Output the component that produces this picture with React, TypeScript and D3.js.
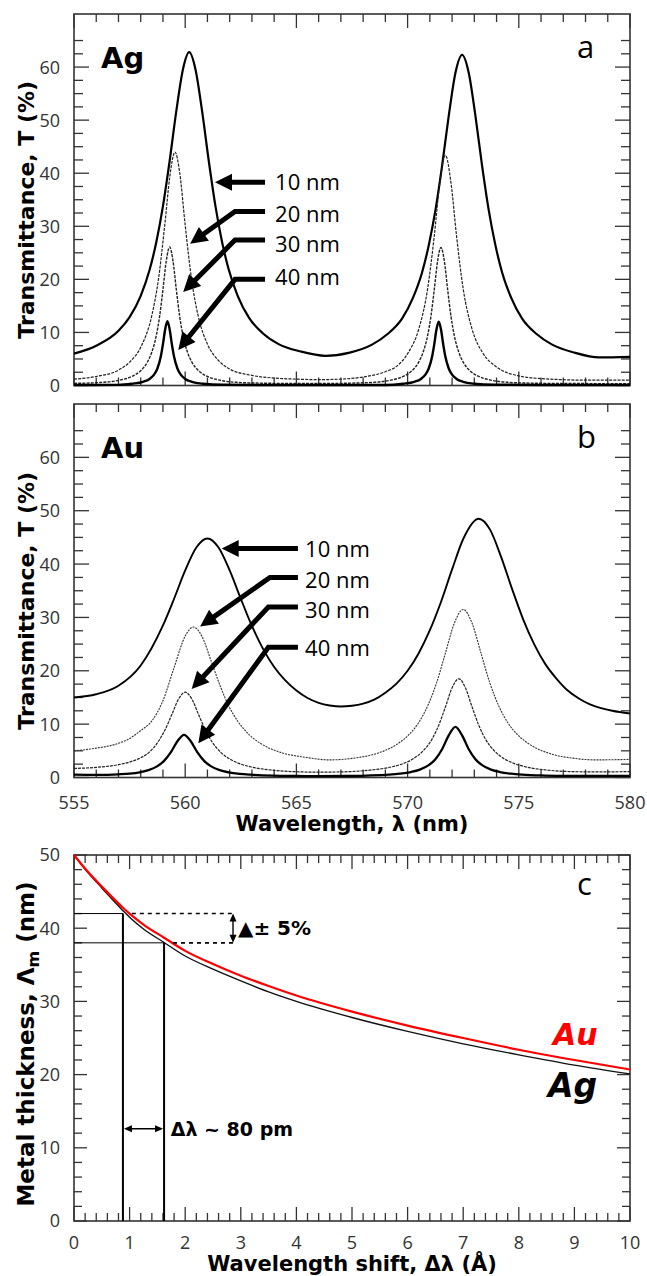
import React from "react";
import * as d3 from "d3";

type P = [number, number];

// ---------- axis ticks / labels ----------
const wavelengthTicks = [555, 560, 565, 570, 575, 580];
const transmittanceTicks = [0, 10, 20, 30, 40, 50, 60];
const shiftTicks = [0, 1, 2, 3, 4, 5, 6, 7, 8, 9, 10];
const thicknessTicks = [0, 10, 20, 30, 40, 50];
const thicknessLabels = ["10 nm", "20 nm", "30 nm", "40 nm"];

// ---------- panel a : Ag transmittance (wavelength nm, T %) ----------
const agT10: P[] = [
  [555, 6.0], [556, 7.5], [557, 10.3], [557.5, 12.9], [558, 16.9], [558.4, 21.8], [558.7, 27],
  [559, 33.8], [559.3, 42.3], [559.6, 51.7], [559.9, 59.6], [560.18, 62.8], [560.46, 59.6],
  [560.76, 51.7], [561.06, 42.3], [561.36, 33.8], [561.66, 27], [561.96, 21.8], [562.36, 16.9],
  [562.88, 12.7], [563.5, 9.8], [564.2, 7.8], [565.2, 6.4], [566.3, 5.6], [567.4, 6.2],
  [568.4, 7.7], [569.1, 9.7], [569.75, 12.6], [570.25, 16.6], [570.65, 21.3], [570.95, 26.4],
  [571.25, 33], [571.55, 41.4], [571.85, 50.8], [572.15, 58.9], [572.45, 62.3], [572.75, 58.9],
  [573.05, 50.8], [573.35, 41.4], [573.65, 33], [573.95, 26.4], [574.25, 21.3], [574.65, 16.6],
  [575.15, 12.6], [575.8, 9.7], [576.5, 7.7], [577.5, 6.2], [578.6, 5.3], [580, 5.4],
];
const agT20: P[] = [
  [555, 1.2], [556, 1.7], [557, 2.9], [557.5, 4.4], [558, 7.2], [558.5, 13.2], [558.8, 20.1],
  [559.1, 31.0], [559.3, 39.1], [559.54, 44.0], [559.75, 40.2], [560, 30.2], [560.3, 19.6],
  [560.6, 12.8], [561, 7.8], [561.5, 4.7], [562, 3.1], [563, 1.9], [564, 1.4], [565, 1.2],
  [566, 1.1], [567, 1.2], [568, 1.6], [569, 2.6], [569.5, 3.6], [570, 6.0], [570.5, 10.6],
  [570.9, 18.2], [571.2, 28.2], [571.45, 38.2], [571.7, 43.4], [571.95, 38.2], [572.2, 28.2],
  [572.5, 18.2], [572.9, 10.6], [573.4, 6.0], [574, 3.5], [575, 1.8], [576, 1.3], [577, 1.1],
  [578, 1.0], [580, 1.0],
];
const agT30: P[] = [
  [555, 0.4], [556.3, 0.6], [557.1, 1.05], [557.6, 1.7], [558, 2.8], [558.3, 4.4], [558.5, 6.3],
  [558.7, 9.4], [558.85, 13.05], [559.0, 18.1], [559.15, 23.5], [559.3, 26.1], [559.45, 23.5],
  [559.6, 18.1], [559.75, 13.05], [559.9, 9.4], [560.1, 6.3], [560.3, 4.4], [560.6, 2.8],
  [561, 1.7], [561.5, 1.05], [562.3, 0.6], [563.3, 0.45], [565, 0.38], [566.5, 0.38],
  [567.5, 0.45], [568.5, 0.6], [569.3, 1.05], [569.8, 1.7], [570.2, 2.8], [570.5, 4.4],
  [570.7, 6.3], [570.9, 9.4], [571.05, 13.05], [571.2, 18.1], [571.35, 23.5], [571.5, 26.0],
  [571.65, 23.5], [571.8, 18.1], [571.95, 13.05], [572.1, 9.4], [572.3, 6.3], [572.5, 4.4],
  [572.8, 2.8], [573.2, 1.7], [573.7, 1.05], [574.5, 0.6], [575.5, 0.45], [577, 0.38], [580, 0.35],
];
const agT40: P[] = [
  [555, 0.1], [557, 0.12], [557.6, 0.34], [558.1, 0.69], [558.4, 1.24], [558.6, 2.04],
  [558.75, 3.2], [558.9, 5.4], [559.0, 7.8], [559.1, 10.6], [559.2, 12.1], [559.3, 10.6],
  [559.4, 7.8], [559.5, 5.4], [559.65, 3.2], [559.8, 2.04], [560.0, 1.24], [560.3, 0.69],
  [560.8, 0.34], [561.7, 0.15], [564, 0.1], [569, 0.1], [569.8, 0.34], [570.3, 0.69],
  [570.6, 1.24], [570.8, 2.04], [570.95, 3.2], [571.1, 5.4], [571.2, 7.8], [571.3, 10.6],
  [571.4, 12.0], [571.5, 10.6], [571.6, 7.8], [571.7, 5.4], [571.85, 3.2], [572.0, 2.04],
  [572.2, 1.24], [572.5, 0.69], [573.0, 0.34], [573.9, 0.15], [576, 0.1], [580, 0.1],
];

// ---------- panel b : Au transmittance ----------
const auT10: P[] = [
  [555, 15.0], [556, 15.6], [557, 17.2], [558, 21.0], [559, 28.5], [559.5, 33.5], [560, 38.8],
  [560.5, 43.1], [561, 44.8], [561.5, 43.1], [562, 38.8], [562.5, 33.5], [563, 28.4],
  [563.5, 24.1], [564, 20.7], [564.5, 18.2], [565, 16.3], [565.5, 14.9], [566, 14.0],
  [566.5, 13.5], [567, 13.3], [567.5, 13.45], [568, 13.85], [568.5, 14.6], [569, 15.9],
  [569.5, 17.6], [570, 20.0], [570.5, 23.3], [571, 27.6], [571.5, 32.9], [572, 39.0],
  [572.5, 44.7], [573.2, 48.5], [573.7, 46.5], [574.2, 41.4], [574.7, 35.3], [575.2, 29.6],
  [575.7, 24.9], [576.2, 21.2], [576.7, 18.5], [577.2, 16.3], [577.7, 14.8], [578.2, 13.7],
  [578.7, 13.0], [579.2, 12.5], [580, 12.0],
];
const auT20: P[] = [
  [555, 5.0], [556, 5.5], [557, 6.4], [557.5, 7.3], [558, 8.8], [558.5, 10.6], [559, 14.4],
  [559.5, 20.6], [560, 26.5], [560.37, 28.2], [560.77, 26.3], [561.17, 21.8], [561.57, 17.2],
  [561.97, 13.3], [562.37, 10.5], [562.87, 8.05], [563.37, 6.43], [563.87, 5.34], [564.37, 4.6],
  [565.37, 3.8], [566.5, 3.3], [567.5, 3.58], [568.5, 4.36], [569, 5.08], [569.5, 6.16],
  [570, 7.8], [570.5, 10.3], [570.9, 13.4], [571.3, 17.7], [571.7, 23.3], [572.1, 28.9],
  [572.5, 31.5], [572.9, 28.9], [573.3, 23.3], [573.7, 17.7], [574.1, 13.4], [574.5, 10.3],
  [575, 7.8], [575.5, 6.16], [576, 5.08], [576.5, 4.36], [577.5, 3.58], [578.5, 3.3], [580, 3.4],
];
const auT30: P[] = [
  [555, 1.7], [556, 1.9], [557, 2.4], [557.5, 2.9], [558, 3.7], [558.4, 4.8], [558.8, 6.8],
  [559.1, 9.0], [559.4, 11.8], [559.7, 14.7], [560, 16.0], [560.3, 14.7], [560.6, 11.8],
  [560.9, 9.0], [561.2, 6.73], [561.6, 4.72], [562, 3.47], [562.5, 2.51], [563, 1.94],
  [564, 1.34], [565, 1.08], [566, 1.0], [567, 1.05], [568.3, 1.38], [569.3, 2.0], [569.8, 2.61],
  [570.3, 3.63], [570.7, 5.0], [571.1, 7.2], [571.4, 9.8], [571.7, 13.2], [572, 16.8],
  [572.3, 18.5], [572.6, 16.8], [572.9, 13.2], [573.2, 9.8], [573.5, 7.2], [573.9, 5.0],
  [574.3, 3.63], [574.8, 2.61], [575.3, 2.0], [576.3, 1.38], [577.3, 1.11], [578.5, 1.05], [580, 1.1],
];
const auT40: P[] = [
  [555, 0.55], [556, 0.5], [557, 0.6], [557.5, 0.72], [557.95, 0.97], [558.35, 1.38],
  [558.75, 2.13], [559.05, 3.11], [559.35, 4.69], [559.65, 6.8], [559.95, 8.0], [560.25, 6.8],
  [560.55, 4.69], [560.85, 3.11], [561.15, 2.13], [561.55, 1.38], [561.95, 0.97], [562.45, 0.68],
  [562.95, 0.52], [563.95, 0.35], [565, 0.29], [566, 0.26], [567.2, 0.28], [568.15, 0.37],
  [569.15, 0.54], [569.65, 0.72], [570.15, 1.03], [570.55, 1.48], [570.95, 2.31], [571.25, 3.42],
  [571.55, 5.3], [571.85, 7.9], [572.15, 9.5], [572.45, 7.9], [572.75, 5.3], [573.05, 3.42],
  [573.35, 2.31], [573.75, 1.48], [574.15, 1.03], [574.65, 0.72], [575.15, 0.54], [576.15, 0.37],
  [577.2, 0.3], [580, 0.3],
];

// ---------- panel c : metal thickness vs wavelength shift ----------
const shiftValues = [0, 0.25, 0.5, 0.88, 1, 1.25, 1.62, 2, 2.5, 3, 3.5, 4, 5, 6, 7, 8, 9, 10];
const agThickness = [50, 47.6, 45.5, 42.4, 41.5, 39.9, 38.05, 36.2, 34.4, 32.8, 31.3, 30.0, 27.8, 25.9, 24.2, 22.7, 21.3, 20.1];
const auThickness = [50, 47.7, 45.7, 42.8, 42.0, 40.5, 38.7, 36.9, 35.1, 33.5, 32.1, 30.8, 28.6, 26.7, 25.0, 23.4, 22.0, 20.7];

// annotation anchors (data coordinates)
const agArrows: P[][] = [
  [[563.59, 38.3], [561.34, 38.3]],
  [[563.59, 32.8], [562.24, 32.8], [560.22, 26.7]],
  [[563.59, 27.4], [562.24, 27.4], [559.91, 17.6]],
  [[563.59, 20.0], [562.24, 20.0], [559.69, 6.7]],
];
const agLabelPos: P[] = [[564.04, 38.3], [564.04, 32.3], [564.04, 26.6], [564.04, 20.4]];
const auArrows: P[][] = [
  [[565.07, 42.9], [561.64, 42.9]],
  [[565.07, 37.5], [563.81, 37.5], [560.67, 28.3]],
  [[565.07, 31.95], [563.74, 31.95], [560.29, 16.6]],
  [[565.07, 24.4], [563.74, 24.4], [560.59, 6.4]],
];
const auLabelPos: P[] = [[565.39, 42.9], [565.39, 37.0], [565.39, 31.3], [565.39, 24.2]];
const pickedShifts = [0.88, 1.62];
const pickedThickness = [42, 38];
const toleranceX = 2.86;
const shiftArrowY = 12.6;

const TICK_FONT = "'Open Sans', 'DejaVu Sans', sans-serif";
const TITLE_FONT = "'DejaVu Sans', sans-serif";
const AXIS = "#333";

const X0 = 74;
const X1 = 630;

type Sc = d3.ScaleLinear<number, number>;

function Frame({ x, y, xMajor, xMinor, yMajor, yMinor, xLen, yLen }: {
  x: Sc; y: Sc; xMajor: number[]; xMinor: number[]; yMajor: number[]; yMinor: number[];
  xLen: [number, number]; yLen: [number, number];
}) {
  const [xa, xb] = x.range();
  const [ya, yb] = y.range(); // ya bottom, yb top
  const items: React.ReactNode[] = [];
  const addX = (v: number, len: number, k: string) => {
    items.push(<line key={"xb" + k} x1={x(v)} x2={x(v)} y1={ya} y2={ya - len} />);
    items.push(<line key={"xt" + k} x1={x(v)} x2={x(v)} y1={yb} y2={yb + len} />);
  };
  const addY = (v: number, len: number, k: string) => {
    items.push(<line key={"yl" + k} x1={xa} x2={xa + len} y1={y(v)} y2={y(v)} />);
    items.push(<line key={"yr" + k} x1={xb} x2={xb - len} y1={y(v)} y2={y(v)} />);
  };
  xMajor.forEach((v, i) => addX(v, xLen[0], "M" + i));
  xMinor.forEach((v, i) => addX(v, xLen[1], "m" + i));
  yMajor.forEach((v, i) => addY(v, yLen[0], "M" + i));
  yMinor.forEach((v, i) => addY(v, yLen[1], "m" + i));
  return (
    <g stroke={AXIS} strokeWidth={1.3} fill="none">
      {items}
      <rect x={xa} y={yb} width={xb - xa} height={ya - yb} strokeWidth={1.6} />
    </g>
  );
}

function Arrow({ pts, w = 5, head = 17, headW = 17 }: { pts: P[]; w?: number; head?: number; headW?: number }) {
  const n = pts.length;
  const [tx, ty] = pts[n - 1];
  const [px, py] = pts[n - 2];
  const L = Math.hypot(tx - px, ty - py);
  const ux = (tx - px) / L;
  const uy = (ty - py) / L;
  const bx = tx - ux * head;
  const by = ty - uy * head;
  const shaft = [...pts.slice(0, n - 1), [bx + ux * 2, by + uy * 2] as P];
  const d = shaft.map((p, i) => (i ? "L" : "M") + p[0] + "," + p[1]).join("");
  const hp = [
    [tx, ty],
    [bx - (uy * headW) / 2, by + (ux * headW) / 2],
    [bx + (uy * headW) / 2, by - (ux * headW) / 2],
  ];
  return (
    <g>
      <path d={d} fill="none" stroke="#000" strokeWidth={w} strokeLinejoin="miter" />
      <polygon points={hp.map((p) => p.join(",")).join(" ")} fill="#000" />
    </g>
  );
}

type Style = { w: number; dash?: string; color: string };

function SpectraPanel({ top, bottom, series, styles, metal, letter, arrows, labelPos, showX }: {
  top: number; bottom: number; series: P[][]; styles: Style[]; metal: string; letter: string;
  arrows: P[][]; labelPos: P[]; showX: boolean;
}) {
  const x = d3.scaleLinear().domain([555, 580]).range([X0, X1]);
  const y = d3.scaleLinear().domain([0, 70]).range([bottom, top]);
  const line = d3.line<P>().x((d) => x(d[0])).y((d) => y(d[1])).curve(d3.curveMonotoneX);
  const xMinor = d3.range(555, 581, 1).filter((v) => v % 5 !== 0);
  const yMinor = d3.range(0, 66, 2.5).filter((v) => v % 10 !== 0);
  const mid = (top + bottom) / 2 + 10;
  return (
    <g>
      <Frame x={x} y={y} xMajor={wavelengthTicks} xMinor={xMinor} yMajor={transmittanceTicks}
        yMinor={yMinor} xLen={[14, 8]} yLen={[15, 9]} />
      {series.map((s, i) => (
        <path key={i} d={line(s) || ""} fill="none" stroke={styles[i].color} strokeWidth={styles[i].w}
          strokeDasharray={styles[i].dash} strokeLinejoin="round" />
      ))}
      {transmittanceTicks.map((t) => (
        <text key={t} x={60} y={y(t)} dy="0.36em" textAnchor="end" fontFamily={TICK_FONT} fontSize={18} fill={AXIS}>
          {t}
        </text>
      ))}
      {showX && wavelengthTicks.map((t) => (
        <text key={t} x={x(t)} y={bottom + 25} dy="0.36em" textAnchor="middle" fontFamily={TICK_FONT} fontSize={18} fill={AXIS}>
          {t}
        </text>
      ))}
      <text transform={`translate(34,${mid}) rotate(-90)`} textAnchor="middle" fontFamily={TITLE_FONT}
        fontWeight="bold" fontSize={22} fill="#000">
        Transmittance, T (%)
      </text>
      <text x={101} y={top + 54} fontFamily={TITLE_FONT} fontWeight="bold" fontSize={29} fill="#000">{metal}</text>
      <text x={577} y={top + 44} fontFamily={TICK_FONT} fontSize={31} fill="#000">{letter}</text>
      {arrows.map((a, i) => (
        <Arrow key={i} pts={a.map((p) => [x(p[0]), y(p[1])] as P)} />
      ))}
      {labelPos.map((p, i) => (
        <text key={i} x={x(p[0])} y={y(p[1])} dy="0.36em" fontFamily={TICK_FONT} fontSize={22} fill="#000">
          {thicknessLabels[i]}
        </text>
      ))}
    </g>
  );
}

function ThicknessPanel() {
  const top = 855;
  const bottom = 1221;
  const x = d3.scaleLinear().domain([0, 10]).range([X0, X1]);
  const y = d3.scaleLinear().domain([0, 50]).range([bottom, top]);
  const ag: P[] = shiftValues.map((s, i) => [s, agThickness[i]]);
  const au: P[] = shiftValues.map((s, i) => [s, auThickness[i]]);
  const line = d3.line<P>().x((d) => x(d[0])).y((d) => y(d[1])).curve(d3.curveMonotoneX);
  const xMinor = d3.range(0, 10.01, 0.2).filter((v) => Math.abs(v - Math.round(v)) > 1e-6);
  const yMinor = d3.range(0, 50.01, 2).filter((v) => v % 10 !== 0);
  const [sA, sB] = pickedShifts;
  const [tA, tB] = pickedThickness;
  const ah = 5;
  const vx = x(toleranceX);
  const hy = y(shiftArrowY);
  return (
    <g>
      <Frame x={x} y={y} xMajor={shiftTicks} xMinor={xMinor} yMajor={thicknessTicks} yMinor={yMinor}
        xLen={[14, 8]} yLen={[13, 8]} />
      <path d={line(ag) || ""} fill="none" stroke="#111" strokeWidth={1.4} />
      <path d={line(au) || ""} fill="none" stroke="#ff0000" strokeWidth={2.2} />
      <g stroke="#000">
        <line x1={x(0)} x2={x(sA)} y1={y(tA)} y2={y(tA)} strokeWidth={1} />
        <line x1={x(0)} x2={x(sB)} y1={y(tB)} y2={y(tB)} strokeWidth={1} />
        <line x1={x(sA)} x2={x(sA)} y1={y(tA)} y2={y(0)} strokeWidth={2} />
        <line x1={x(sB)} x2={x(sB)} y1={y(tB)} y2={y(0)} strokeWidth={2} />
        <line x1={x(1.04)} x2={vx} y1={y(tA)} y2={y(tA)} strokeWidth={1.6} strokeDasharray="4 4" />
        <line x1={x(1.78)} x2={vx} y1={y(tB)} y2={y(tB)} strokeWidth={1.6} strokeDasharray="4 4" />
        <line x1={vx} x2={vx} y1={y(tA) + 3} y2={y(tB) - 3} strokeWidth={1.4} />
        <line x1={x(sA) + 3} x2={x(sB) - 3} y1={hy} y2={hy} strokeWidth={1.6} />
      </g>
      <g fill="#000">
        <polygon points={`${vx},${y(tA)} ${vx - 3.5},${y(tA) + ah + 3} ${vx + 3.5},${y(tA) + ah + 3}`} />
        <polygon points={`${vx},${y(tB)} ${vx - 3.5},${y(tB) - ah - 3} ${vx + 3.5},${y(tB) - ah - 3}`} />
        <polygon points={`${x(sA) + 1},${hy} ${x(sA) + 9},${hy - 3.5} ${x(sA) + 9},${hy + 3.5}`} />
        <polygon points={`${x(sB) - 1},${hy} ${x(sB) - 9},${hy - 3.5} ${x(sB) - 9},${hy + 3.5}`} />
      </g>
      <text x={vx + 5} y={y((tA + tB) / 2)} dy="0.36em" fontFamily={TITLE_FONT} fontWeight="bold" fontSize={20} fill="#000">
        ▲± 5%
      </text>
      <text x={x(1.74)} y={hy} dy="0.36em" fontFamily={TITLE_FONT} fontWeight="bold" fontSize={19} fill="#000">
        Δλ ~ 80 pm
      </text>
      <text x={553} y={1045} fontFamily={TITLE_FONT} fontWeight="bold" fontStyle="italic" fontSize={30} fill="#ff0000">Au</text>
      <text x={548} y={1097} fontFamily={TITLE_FONT} fontWeight="bold" fontStyle="italic" fontSize={33} fill="#000">Ag</text>
      <text x={577} y={895} fontFamily={TICK_FONT} fontSize={31} fill="#000">c</text>
      {thicknessTicks.map((t) => (
        <text key={t} x={60} y={y(t)} dy="0.36em" textAnchor="end" fontFamily={TICK_FONT} fontSize={18} fill={AXIS}>{t}</text>
      ))}
      {shiftTicks.map((t) => (
        <text key={t} x={x(t)} y={bottom + 22} dy="0.36em" textAnchor="middle" fontFamily={TICK_FONT} fontSize={18} fill={AXIS}>{t}</text>
      ))}
      <text transform={`translate(34,${(top + bottom) / 2 + 6}) rotate(-90)`} textAnchor="middle" fontFamily={TITLE_FONT}
        fontWeight="bold" fontSize={23} fill="#000">
        Metal thickness, Λ<tspan fontSize={16} dy={5}>m</tspan><tspan dy={-5}> (nm)</tspan>
      </text>
      <text x={(X0 + X1) / 2} y={1271} textAnchor="middle" fontFamily={TITLE_FONT} fontWeight="bold" fontSize={21} fill="#000">
        Wavelength shift, Δλ (Å)
      </text>
    </g>
  );
}

const stylesA: Style[] = [
  { w: 2.2, color: "#000" },
  { w: 1.2, dash: "3 1.2", color: "#222" },
  { w: 1.4, dash: "3 1.2", color: "#222" },
  { w: 2.4, color: "#000" },
];
const stylesB: Style[] = [
  { w: 1.9, color: "#000" },
  { w: 1.1, dash: "2 1", color: "#333" },
  { w: 1.2, dash: "3 1", color: "#222" },
  { w: 2.3, color: "#000" },
];

export default function App() {
  return (
    <svg width={647} height={1276} style={{ position: "absolute", left: 0, top: 0, background: "#fff" }}>
      <rect width={647} height={1276} fill="#fff" />
      <SpectraPanel top={14} bottom={385.5} series={[agT10, agT20, agT30, agT40]} styles={stylesA}
        metal="Ag" letter="a" arrows={agArrows} labelPos={agLabelPos} showX={false} />
      <SpectraPanel top={404} bottom={777.5} series={[auT10, auT20, auT30, auT40]} styles={stylesB}
        metal="Au" letter="b" arrows={auArrows} labelPos={auLabelPos} showX={true} />
      <text x={(X0 + X1) / 2} y={831} textAnchor="middle" fontFamily={TITLE_FONT} fontWeight="bold" fontSize={21} fill="#000">
        Wavelength, λ (nm)
      </text>
      <ThicknessPanel />
    </svg>
  );
}
